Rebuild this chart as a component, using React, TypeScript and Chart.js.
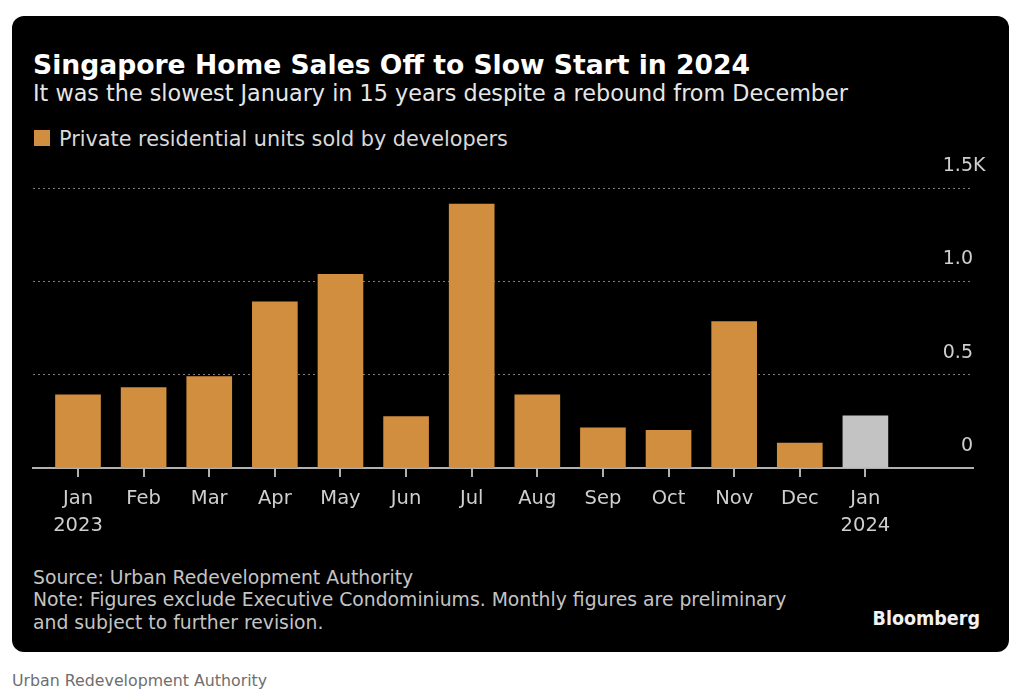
import React, { useEffect, useRef } from "react";
import { Chart, registerables } from "chart.js";

Chart.register(...registerables);

const MONTHS = ["Jan", "Feb", "Mar", "Apr", "May", "Jun", "Jul", "Aug", "Sep", "Oct", "Nov", "Dec", "Jan"];
const YEARS = ["2023", "", "", "", "", "", "", "", "", "", "", "", "2024"];
const UNITS_SOLD = [392, 431, 490, 890, 1038, 276, 1414, 392, 215, 202, 784, 133, 279];
const Y_TICKS = [0, 500, 1000, 1500];
const Y_TICK_LABELS = ["0", "0.5", "1.0", "1.5K"];

const SERIES_LABEL = "Private residential units sold by developers";
const ORANGE = "#D18E3F";
const GRAY = "#C3C3C3";
const AXIS = "#b0b0b0";
const FAMILY = '"DejaVu Sans", sans-serif';

export default function App() {
  const ref = useRef<HTMLCanvasElement>(null);

  useEffect(() => {
    const axisExtras = {
      id: "axisExtras",
      afterDraw(chart: any) {
        const ys = chart.scales.y;
        const xs = chart.scales.x;
        const ctx = chart.ctx;
        ctx.save();
        // tick marks under the baseline, one per month
        ctx.strokeStyle = AXIS;
        ctx.lineWidth = 2;
        MONTHS.forEach((_, i) => {
          const px = Math.round(xs.getPixelForValue(i));
          ctx.beginPath();
          ctx.moveTo(px, xs.top);
          ctx.lineTo(px, xs.top + 9);
          ctx.stroke();
        });
        // "K" suffix hanging after the top y label
        ctx.font = `19px ${FAMILY}`;
        ctx.fillStyle = "#cfcfcf";
        ctx.textAlign = "left";
        ctx.textBaseline = "middle";
        Y_TICKS.forEach((v, i) => {
          if (Y_TICK_LABELS[i].endsWith("K")) {
            ctx.fillText("K", ys.left, ys.getPixelForValue(v) - 22);
          }
        });
        ctx.restore();
      },
    };

    const chart = new Chart(ref.current!, {
      type: "bar",
      data: {
        datasets: [
          {
            label: SERIES_LABEL,
            data: UNITS_SOLD.map((v, i) => ({ x: i, y: v })),
            backgroundColor: UNITS_SOLD.map((_, i) => (i === UNITS_SOLD.length - 1 ? GRAY : ORANGE)),
            borderWidth: 0,
            barThickness: 45,
          },
        ],
      },
      options: {
        animation: false,
        responsive: false,
        maintainAspectRatio: false,
        layout: { padding: { left: 33, right: 51, top: 38, bottom: 3 } },
        plugins: { legend: { display: false }, tooltip: { enabled: false } },
        scales: {
          x: {
            type: "linear",
            min: -0.686,
            max: 13.64,
            offset: false,
            z: 1,
            afterBuildTicks: (s: any) => {
              s.ticks = MONTHS.map((_, i) => ({ value: i }));
            },
            ticks: {
              autoSkip: false,
              maxRotation: 0,
              color: "#cfcfcf",
              padding: 8,
              font: { family: FAMILY, size: 19.5, lineHeight: 27 / 19.5 },
              callback: (v: any) => {
                const i = Math.round(Number(v));
                return YEARS[i] ? [MONTHS[i], YEARS[i]] : MONTHS[i];
              },
            },
            grid: {
              offset: false,
              drawOnChartArea: false,
              drawTicks: true,
              tickLength: 9,
              color: AXIS,
              tickColor: AXIS,
              lineWidth: 2,
              tickWidth: 2,
            },
            border: { display: true, color: AXIS, width: 2 },
          },
          y: {
            type: "linear",
            position: "right",
            min: 0,
            max: 1500,
            afterBuildTicks: (s: any) => {
              s.ticks = Y_TICKS.map((v) => ({ value: v }));
            },
            ticks: {
              mirror: true,
              padding: 0,
              labelOffset: -22,
              color: "#cfcfcf",
              font: { family: FAMILY, size: 19 },
              callback: (v: any) => {
                const i = Y_TICKS.indexOf(Number(v));
                return i >= 0 ? Y_TICK_LABELS[i].replace("K", "") : "";
              },
            },
            grid: { color: "#7d7d7d", lineWidth: 1, drawTicks: false },
            border: { display: false, dash: [2, 3] },
          },
        },
      },
      plugins: [axisExtras],
    } as any);
    return () => chart.destroy();
  }, []);

  const abs = (s: React.CSSProperties): React.CSSProperties => ({ position: "absolute", margin: 0, whiteSpace: "nowrap", ...s });

  return (
    <div style={{ position: "fixed", inset: 0, background: "#fff", overflow: "hidden", fontFamily: FAMILY }}>
      <div style={abs({ left: 12, top: 16, width: 997, height: 636, background: "#000", borderRadius: 12 })} />
      <div style={abs({ left: 33, top: 51.6, fontSize: 26.6, lineHeight: "26.6px", fontWeight: "bold", color: "#fff" })}>
        Singapore Home Sales Off to Slow Start in 2024
      </div>
      <div style={abs({ left: 33, top: 81.7, fontSize: 22.3, lineHeight: "22.3px", color: "#e6e6e6" })}>
        It was the slowest January in 15 years despite a rebound from December
      </div>
      <div style={abs({ left: 34, top: 130, width: 16, height: 16, background: ORANGE })} />
      <div style={abs({ left: 59, top: 129, fontSize: 20.8, lineHeight: "20.8px", color: "#d9d9d9" })}>{SERIES_LABEL}</div>
      <canvas ref={ref} width={1024} height={400} style={abs({ left: 0, top: 150, width: 1024, height: 400 })} />
      <div style={abs({ left: 33, top: 566.5, fontSize: 18.8, lineHeight: "22.5px", color: "#c4c4c4", whiteSpace: "pre" })}>
        {"Source: Urban Redevelopment Authority\nNote: Figures exclude Executive Condominiums. Monthly figures are preliminary\nand subject to further revision."}
      </div>
      <div style={abs({ right: 1024 - 980, top: 608.5, fontSize: 19.5, lineHeight: "19.5px", fontWeight: "bold", color: "#f2f2f2", fontStretch: "condensed" })}>
        Bloomberg
      </div>
      <div style={abs({ left: 12, top: 673, fontSize: 15.8, lineHeight: "15.8px", color: "#6e6e6e" })}>
        Urban Redevelopment Authority
      </div>
    </div>
  );
}
